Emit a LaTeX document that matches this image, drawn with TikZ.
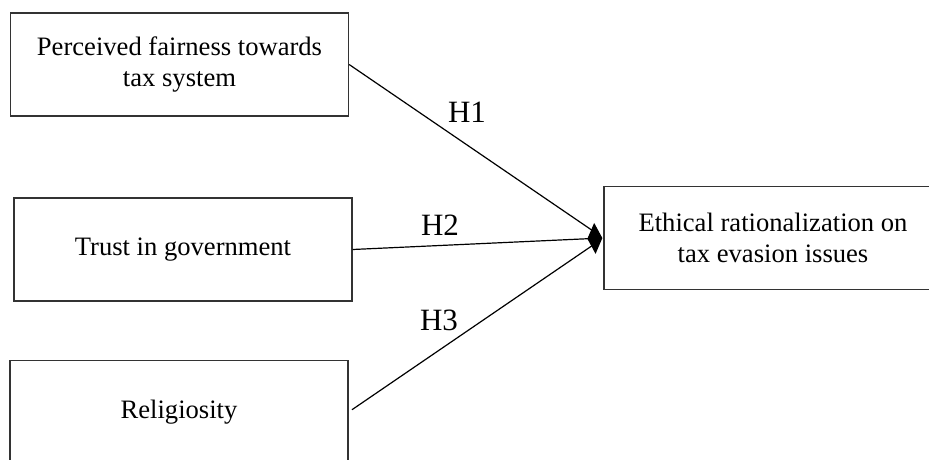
\documentclass[tikz,border=0pt]{standalone}
\usepackage{fontspec}
\setmainfont{Liberation Serif}
\usetikzlibrary{arrows.meta}
\begin{document}
\begin{tikzpicture}[x=1pt,y=-1pt,
    main/.style={draw=black!80, line width=1.3pt, minimum width=338pt, minimum height=103pt, align=center, inner sep=0pt, font=\fontsize{26.6}{31}\selectfont},
    hyp/.style={inner sep=0pt, font=\fontsize{31}{36}\selectfont},
    link/.style={line width=1.2pt, shorten >=8pt},
    head/.style={line width=1.2pt, shorten >=1pt, -{Diamond[length=15pt,width=31pt]}}]
    \useasboundingbox (0,0) rectangle (929,460);
    \clip (0,0) rectangle (929,460);

    \node[main] (b1) at (179.5,64.5) {Perceived fairness towards\\tax system};
    \node[main] (b2) at (183,249.5) {Trust in government};
    \node[main] (b3) at (179,412) {Religiosity};
    \node[main] (b4) at (773,238) {Ethical rationalization on\\tax evasion issues};

    \node[hyp] (h1) at (467,112) {H1};
    \node[hyp] (h2) at (440,225) {H2};
    \node[hyp] (h3) at (439,320) {H3};

    \draw[link] (b1.east) -- (b4.west);
    \draw[link, shorten <=4pt] (b3.east) -- (b4.west);
    \draw[head] (b2.east) -- (b4.west);
\end{tikzpicture}
\end{document}
